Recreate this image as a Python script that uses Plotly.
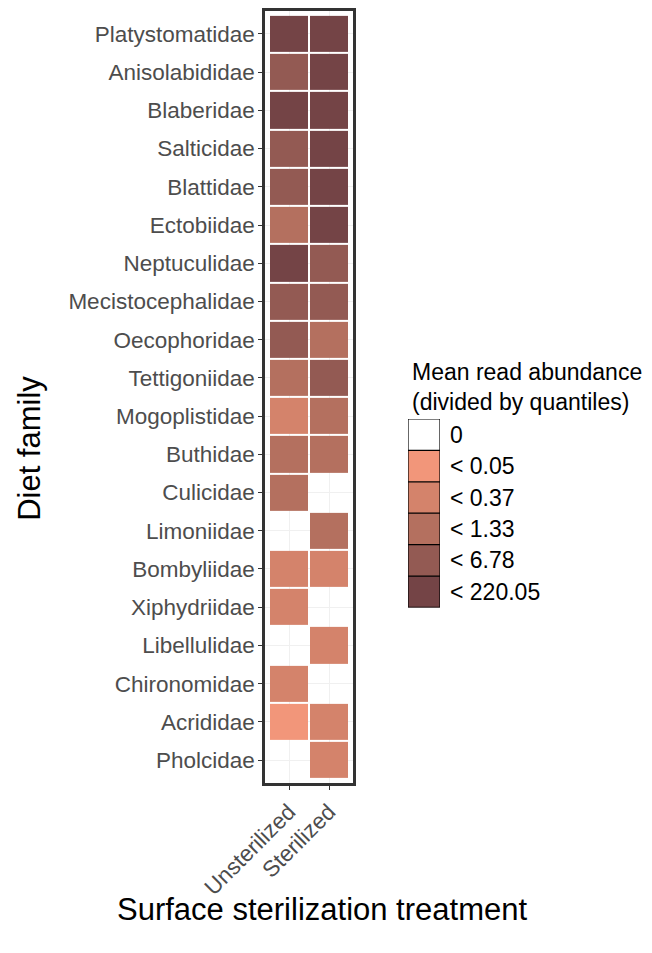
import plotly.graph_objects as go

families = ["Platystomatidae", "Anisolabididae", "Blaberidae", "Salticidae", "Blattidae",
            "Ectobiidae", "Neptuculidae", "Mecistocephalidae", "Oecophoridae", "Tettigoniidae",
            "Mogoplistidae", "Buthidae", "Culicidae", "Limoniidae", "Bombyliidae",
            "Xiphydriidae", "Libellulidae", "Chironomidae", "Acrididae", "Pholcidae"]
treatments = ["Unsterilized", "Sterilized"]
# abundance class (0 = none, 1..5 = quantile bins)
unsterilized = [5, 4, 5, 4, 4, 3, 5, 4, 4, 3, 2, 3, 3, 0, 2, 2, 0, 2, 1, 0]
sterilized   = [5, 5, 5, 5, 5, 5, 4, 4, 3, 4, 3, 3, 0, 3, 2, 0, 2, 0, 2, 2]
legend_labels = ["0", "< 0.05", "< 0.37", "< 1.33", "< 6.78", "< 220.05"]
level_colors = ["rgba(255,255,255,0)", "#F2967A", "#D4836B", "#B4705F", "#935A53", "#744446"]

n = len(level_colors)
cs = []
for i, c in enumerate(level_colors):
    cs.append([i / n, c])
    cs.append([(i + 1) / n, c])

z = [[u, s] for u, s in zip(unsterilized, sterilized)]

fig = go.Figure()
fig.add_trace(go.Heatmap(
    z=z, x=treatments, y=families, colorscale=cs, zmin=-0.5, zmax=n - 0.5,
    showscale=False, xgap=2, ygap=2, hoverinfo="skip", xaxis="x", yaxis="y"))

fig.add_trace(go.Heatmap(
    z=[[i] for i in range(n)], x=["k"], y=legend_labels, colorscale=cs,
    zmin=-0.5, zmax=n - 0.5, showscale=False, hoverinfo="skip",
    xaxis="x2", yaxis="y2"))

OFF = 8  # page body margin
W, H = 652 - OFF, 953 - OFF
L, R, T = 265 - OFF, 0, 9 - OFF
B = H - (783 - OFF)
pw, ph = W - L - R, H - T - B

def px_x(x):
    return (x - OFF - L) / pw

def px_y(y):
    return (H - B - (y - OFF)) / ph

font = "Liberation Sans, Arial, Helvetica, sans-serif"

fig.update_layout(
    width=W, height=H, margin=dict(l=L, r=R, t=T, b=B),
    paper_bgcolor="white", plot_bgcolor="white",
    font=dict(family=font, size=23, color="black"),
    xaxis=dict(domain=[0, px_x(353)], range=[-0.6, 1.6], showgrid=True,
               gridcolor="#F0F0F0", gridwidth=0.6, zeroline=False,
               showline=True, mirror=True, linewidth=2.5, linecolor="#333333",
               ticks="outside", ticklen=4, tickcolor="#333333", tickangle=-45,
               tickfont=dict(size=22.5, color="#4D4D4D"), anchor="y"),
    yaxis=dict(domain=[0, 1], range=[19.6, -0.6], showgrid=True,
               gridcolor="#F0F0F0", gridwidth=0.6, zeroline=False,
               showline=True, mirror=True, linewidth=2.5, linecolor="#333333",
               ticks="outside", ticklen=4, tickcolor="#333333",
               tickfont=dict(size=22.5, color="#4D4D4D"), anchor="x",
               ticklabelstandoff=-1),
    xaxis2=dict(domain=[px_x(408), px_x(440)], range=[-0.5, 0.5], showgrid=False,
                zeroline=False, showticklabels=False, ticks="", anchor="y2"),
    yaxis2=dict(domain=[px_y(607), px_y(418)], range=[5.5, -0.5], showgrid=False,
                zeroline=False, side="right", ticks="", anchor="x2",
                tickfont=dict(size=23, color="black"), ticklabelstandoff=9),
)

shapes = [dict(type="rect", xref="x2", yref="y2", x0=-0.5, x1=0.5, y0=-0.5, y1=5.5,
               line=dict(color="black", width=1.2), layer="above")]
for i in range(1, n):
    shapes.append(dict(type="line", xref="x2", yref="y2", x0=-0.5, x1=0.5,
                       y0=i - 0.5, y1=i - 0.5, line=dict(color="black", width=1.2),
                       layer="above"))
fig.update_layout(shapes=shapes)

fig.add_annotation(text="Mean read abundance<br>(divided by quantiles)",
                   xref="paper", yref="paper", x=px_x(410), y=px_y(356),
                   xanchor="left", yanchor="top", align="left", showarrow=False,
                   font=dict(size=23, color="black"))
fig.add_annotation(text="Surface sterilization treatment", xref="paper", yref="paper",
                   x=px_x(322), y=px_y(910), xanchor="center", yanchor="middle",
                   showarrow=False, font=dict(size=31, color="black"))
fig.add_annotation(text="Diet family", xref="paper", yref="paper",
                   x=px_x(30), y=px_y(447), xanchor="center", yanchor="middle",
                   textangle=-90, showarrow=False, font=dict(size=31, color="black"))

fig.write_html("out.html")
